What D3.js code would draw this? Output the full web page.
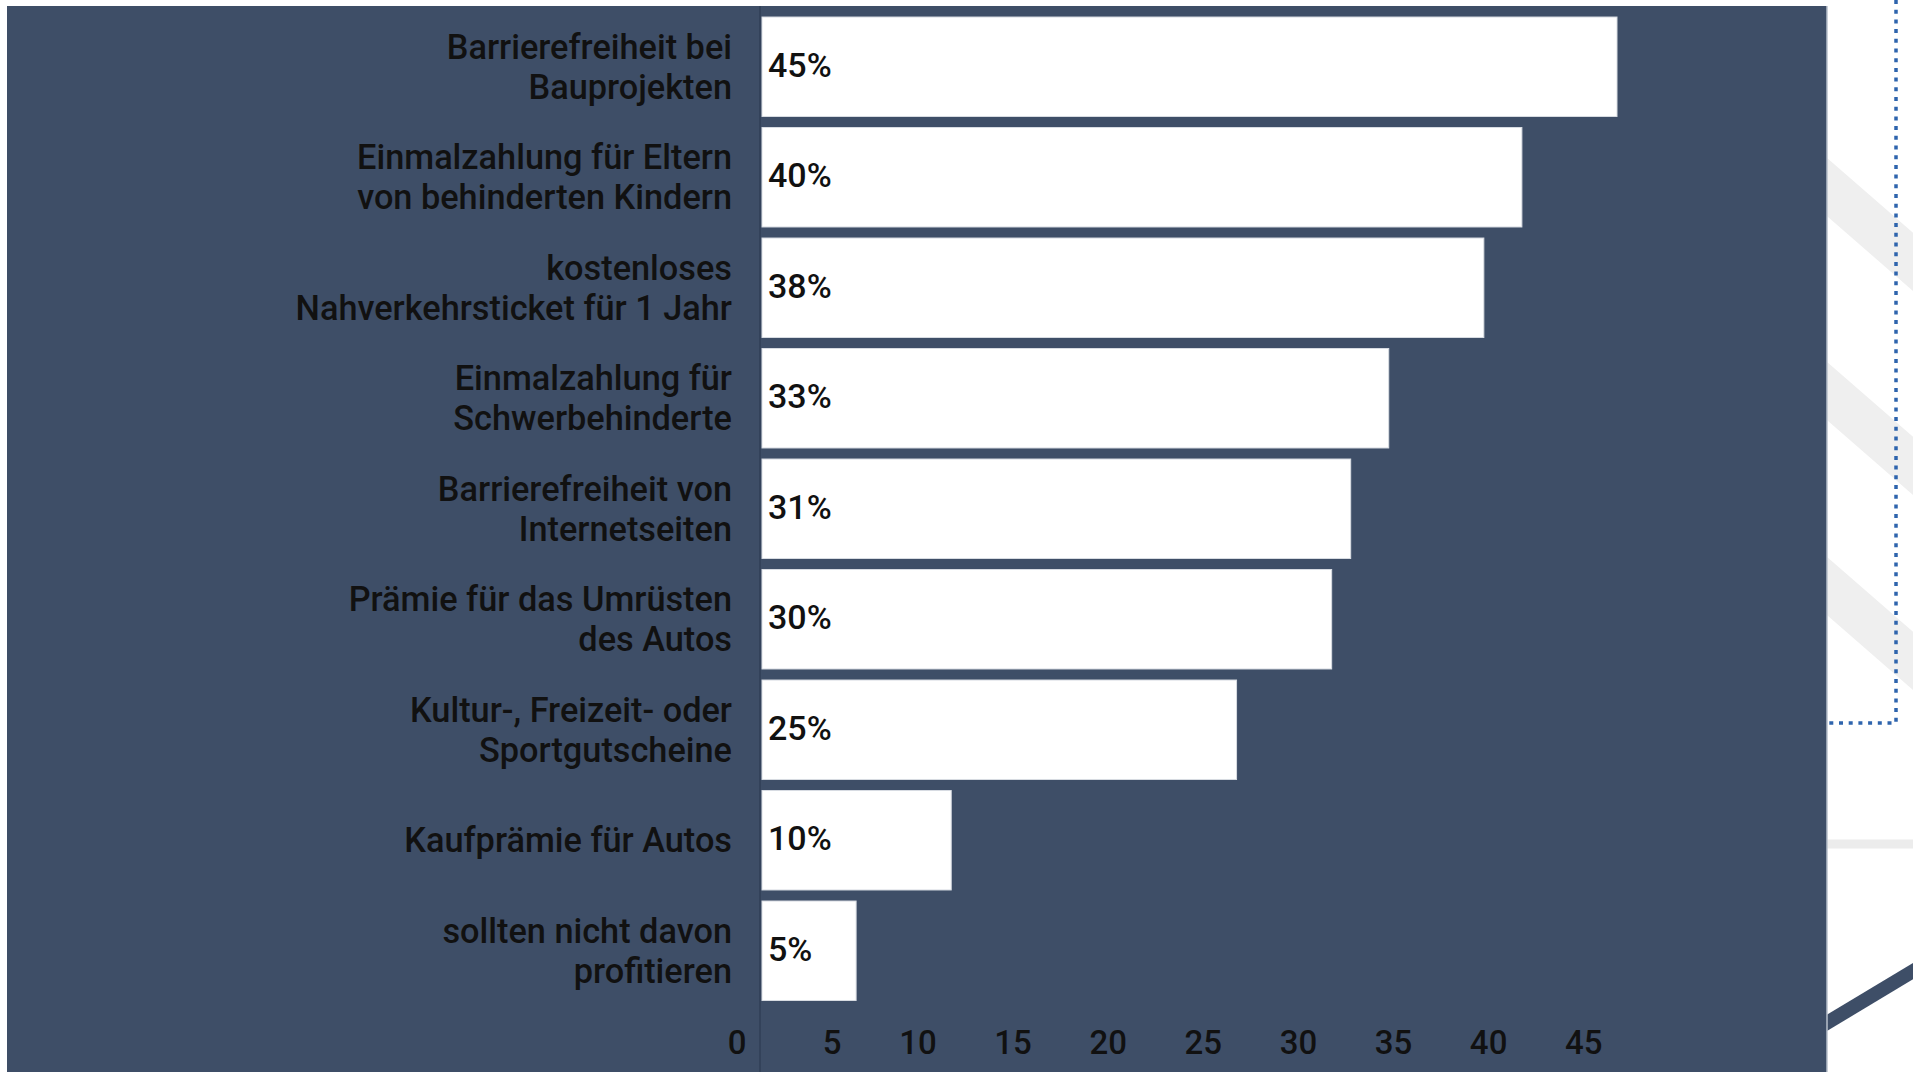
<!DOCTYPE html>
<html>
<head>
<meta charset="utf-8">
<script src="https://cdn.jsdelivr.net/npm/d3@7"></script>
<style>
  html, body { margin:0; padding:0; background:#fff; overflow:hidden; }
  svg { display:block; font-family: Roboto, "Noto Sans", sans-serif; }
</style>
</head>
<body>
<div id="chart"></div>
<script>
// data
const categories = [
  ["Barrierefreiheit bei", "Bauprojekten"],
  ["Einmalzahlung für Eltern", "von behinderten Kindern"],
  ["kostenloses", "Nahverkehrsticket für 1 Jahr"],
  ["Einmalzahlung für", "Schwerbehinderte"],
  ["Barrierefreiheit von", "Internetseiten"],
  ["Prämie für das Umrüsten", "des Autos"],
  ["Kultur-, Freizeit- oder", "Sportgutscheine"],
  ["Kaufprämie für Autos"],
  ["sollten nicht davon", "profitieren"]
];
const values = [45, 40, 38, 33, 31, 30, 25, 10, 5];
const tickValues = [0, 5, 10, 15, 20, 25, 30, 35, 40, 45];

const W = 1913, H = 1072;
const bg = "#3e4e67";

const svg = d3.select("#chart").append("svg")
  .attr("width", W)
  .attr("height", H);

// decoration on the right (outside the chart panel)
const deco = svg.append("g");
[187, 391, 586].forEach(function(c){
  deco.append("line")
    .attr("x1", 1800).attr("y1", c - 27 * 0.87)
    .attr("x2", 1940).attr("y2", c + 113 * 0.87)
    .attr("stroke", "#efefef").attr("stroke-width", 44);
});
deco.append("line")
  .attr("x1", 1820).attr("y1", 844).attr("x2", 1913).attr("y2", 844)
  .attr("stroke", "#ececec").attr("stroke-width", 9);
deco.append("path")
  .attr("d", "M1896,0 V723 H1827")
  .attr("fill", "none")
  .attr("stroke", "#2e64ad")
  .attr("stroke-width", 3.5)
  .attr("stroke-dasharray", "4,5.7");
deco.append("line")
  .attr("x1", 1820).attr("y1", 1027).attr("x2", 1920).attr("y2", 967)
  .attr("stroke", bg).attr("stroke-width", 14);

// chart panel
svg.append("rect")
  .attr("x", 7).attr("y", 6)
  .attr("width", 1820).attr("height", H - 6)
  .attr("fill", bg);
svg.append("line")
  .attr("x1", 1827).attr("x2", 1827)
  .attr("y1", 6).attr("y2", H)
  .attr("stroke", "#b9c0cb")
  .attr("stroke-width", 1.5);

const x = d3.scaleLinear()
  .domain([0, 45])
  .range([761, 1617]);

const y = d3.scaleBand()
  .domain(d3.range(categories.length))
  .range([11.5, 1006])
  .paddingInner(0.1)
  .paddingOuter(0.05);

// vertical axis line
svg.append("line")
  .attr("x1", 760).attr("x2", 760)
  .attr("y1", 6).attr("y2", H)
  .attr("stroke", "#33425a")
  .attr("stroke-width", 2);

// bars
svg.append("g")
  .selectAll("rect")
  .data(values)
  .enter()
  .append("rect")
  .attr("x", x(0) + 1)
  .attr("y", (d, i) => y(i))
  .attr("width", d => x(d) - x(0) - 1)
  .attr("height", y.bandwidth())
  .attr("fill", "#fff")
  .attr("stroke", "#d9dde3")
  .attr("stroke-width", 1);

// value labels
svg.append("g")
  .selectAll("text")
  .data(values)
  .enter()
  .append("text")
  .attr("x", x(0) + 7)
  .attr("y", (d, i) => y(i) + y.bandwidth() / 2)
  .attr("dy", "0.3em")
  .attr("font-size", 34)
  .attr("font-weight", 500)
  .attr("fill", "#111")
  .text(d => d + "%");

// category labels
const lineH = 40;
const labels = svg.append("g")
  .selectAll("text")
  .data(categories)
  .enter()
  .append("text")
  .attr("text-anchor", "end")
  .attr("font-size", 34.3)
  .attr("font-weight", 500)
  .attr("fill", "#111")
  .attr("y", (d, i) => y(i) + y.bandwidth() / 2 - (d.length - 1) * lineH / 2);

labels.selectAll("tspan")
  .data(d => d)
  .enter()
  .append("tspan")
  .attr("x", 732)
  .attr("dy", (d, j) => j === 0 ? "0.35em" : lineH)
  .text(d => d);

// x axis tick labels
const xAxis = d3.axisBottom(x)
  .tickValues(tickValues)
  .tickSize(0)
  .tickFormat(d3.format("d"));

const ax = svg.append("g")
  .attr("transform", "translate(0,1028)")
  .call(xAxis);
ax.select(".domain").remove();
ax.selectAll("text")
  .attr("text-anchor", "end")
  .attr("dx", -15)
  .attr("font-size", 33)
  .attr("font-weight", 500)
  .attr("font-family", "Roboto, sans-serif")
  .attr("fill", "#111");
</script>
</body>
</html>
